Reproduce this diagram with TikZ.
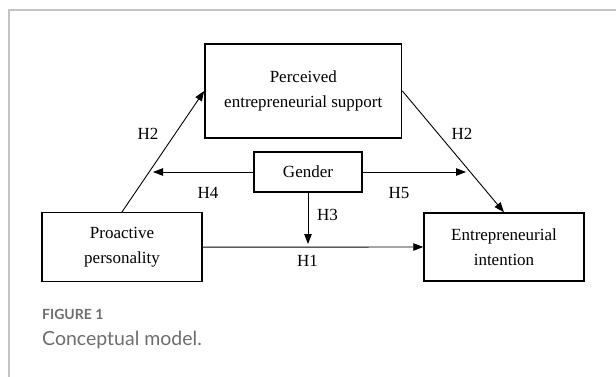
\documentclass[tikz,border=0pt]{standalone}
\usepackage{fontspec}
\setmainfont{Liberation Serif}
\newfontfamily\capfont{Lato}
\usetikzlibrary{arrows.meta}
\definecolor{capgray}{HTML}{6E6E6E}
\definecolor{framegray}{HTML}{C4C4C4}

\begin{document}
\begin{tikzpicture}[x=1pt,y=-1pt,
		box/.style={shape=rectangle,draw=black,line width=1.5pt,align=center,inner sep=0pt,font=\fontsize{17}{25}\selectfont},
		hyp/.style={inner sep=0pt,font=\fontsize{17}{20}\selectfont},
		arr/.style={-{Triangle[length=10pt,width=7.5pt]},line width=0.9pt,black}]
			\useasboundingbox (0,0) rectangle (616,377);
			\draw[framegray,line width=1.5pt] (616,10) -- (9,10) -- (9,377);
			
			\node[box,minimum width=196.7pt,minimum height=94pt] (pes) at (303.3,91) {Perceived\\entrepreneurial support};
			\node[box,minimum width=108pt,minimum height=40pt] (gen) at (308,172) {Gender};
			\node[box,minimum width=160.3pt,minimum height=69pt] (pp) at (122,247.2) {Proactive\\personality};
			\node[box,minimum width=160pt,minimum height=68pt] (ei) at (504,247) {Entrepreneurial\\intention};
			
			\coordinate (h4end) at (153,172);
			\coordinate (h5end) at (466,172);
			\coordinate (h3end) at (308,244);
			
			\path [arr] (pp.north) edge (pes.west);
			\path [arr] (pes.east) edge (ei.north);
			\path [arr] (pp.east) edge (ei.west);
			\path [arr] (gen.west) edge (h4end);
			\path [arr] (gen.east) edge (h5end);
			\path [arr] (gen.south) edge (h3end);
			
			\node[hyp] (h2a) at (148,134) {H2};
			\node[hyp] (h2b) at (462,134) {H2};
			\node[hyp] (h4) at (208,193) {H4};
			\node[hyp] (h5) at (399,193) {H5};
			\node[hyp] (h3) at (327.5,215) {H3};
			\node[hyp] (h1) at (307.6,260.5) {H1};
			
			%caption
			\node[anchor=west,inner sep=0pt,text=capgray,font=\capfont\bfseries\fontsize{14}{16}\selectfont] (fig) at (42,314) {FIGURE 1};
			\node[anchor=west,inner sep=0pt,text=capgray,font=\capfont\fontsize{19.5}{22}\selectfont] (cap) at (42,340) {Conceptual model.};
\end{tikzpicture}
\end{document}
